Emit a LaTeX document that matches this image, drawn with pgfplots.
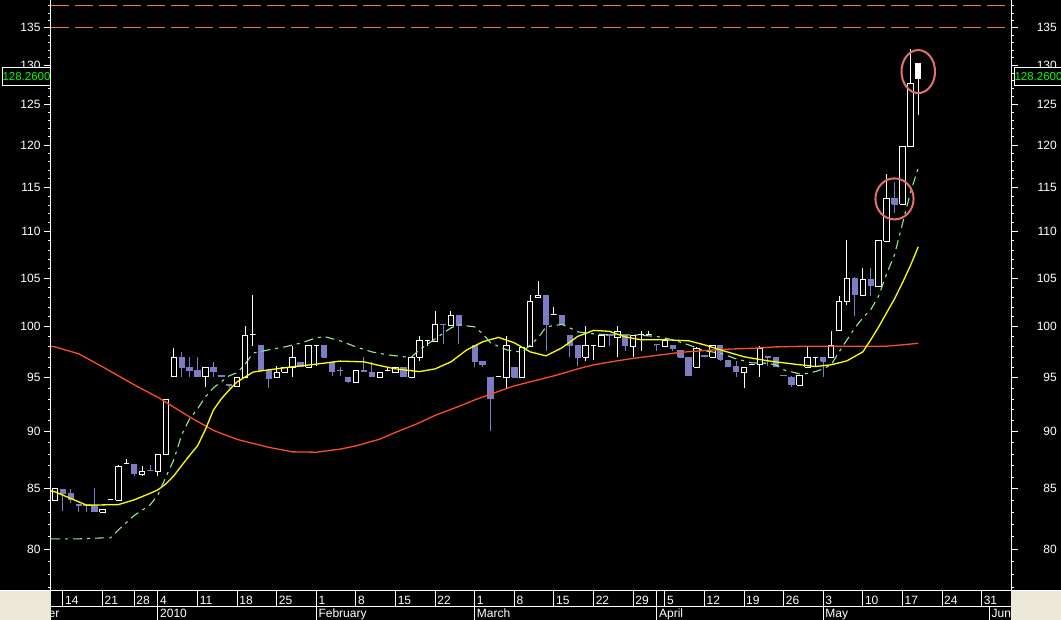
\documentclass[border=0pt]{standalone}
\usepackage{fontspec}
\setmainfont{Liberation Sans}
\usepackage{pgfplots}
\usepackage{pgfplotstable}
\pgfplotsset{compat=1.18}

\definecolor{dnc}{RGB}{124,124,196}
\definecolor{maY}{RGB}{255,255,0}
\definecolor{maG}{RGB}{148,236,148}
\definecolor{maR}{RGB}{250,80,30}
\definecolor{dashO}{RGB}{235,120,60}
\definecolor{ring}{RGB}{228,112,112}
\definecolor{xpgray}{RGB}{236,233,216}
\definecolor{lbl}{RGB}{0,255,0}

\pgfplotstableread{
i o h l c f
0 84.00 85.05 84.00 85.05 0
1 84.90 84.90 83.10 84.55 0
2 84.55 85.00 83.80 84.10 0
3 83.63 83.63 83.05 83.60 0
4 83.63 83.63 83.05 83.60 0
5 83.60 85.05 83.07 83.07 0
6 83.00 83.20 83.00 83.20 0
7 84.10 84.10 84.10 84.10 0
8 84.00 87.00 84.00 86.90 0
9 87.15 87.60 87.15 87.15 0
10 87.05 87.05 86.05 86.30 0
11 86.25 86.95 86.05 86.45 0
12 86.58 87.05 86.55 86.55 0
13 86.45 88.00 86.05 88.00 0
14 88.00 93.05 88.00 93.00 0
15 95.10 97.90 95.10 97.00 0
16 97.00 97.50 95.10 96.00 0
17 95.95 97.00 95.10 95.70 0
18 95.70 97.00 95.10 95.10 0
19 95.10 96.00 94.10 96.00 0
20 96.00 96.50 95.10 95.60 0
21 95.20 95.20 95.10 95.10 0
22 94.35 94.35 94.05 94.30 0
23 94.15 95.05 94.15 95.05 0
24 95.07 100.10 95.07 99.10 0
25 99.20 103.20 98.10 99.20 0
26 98.10 98.10 95.70 95.70 0
27 95.70 95.70 94.00 94.90 0
28 95.07 96.15 95.07 95.55 0
29 95.55 96.00 95.55 96.00 0
30 96.00 98.10 95.10 97.00 0
31 96.50 96.50 96.10 96.10 0
32 96.00 98.10 96.00 98.10 0
33 98.15 98.15 96.15 98.15 0
34 98.10 98.10 97.00 97.00 0
35 96.50 96.50 95.20 95.60 0
36 95.73 96.00 95.20 95.70 0
37 95.07 95.07 94.55 94.65 0
38 94.60 95.75 94.60 95.75 0
39 95.75 97.00 95.60 95.60 0
40 95.55 96.55 95.10 95.10 0
41 95.07 95.55 95.07 95.55 0
42 95.68 96.00 95.68 95.68 0
43 95.50 96.00 95.50 96.00 0
44 96.00 96.00 95.10 95.10 0
45 95.07 97.00 95.07 97.00 0
46 97.00 99.10 96.60 98.60 0
47 98.60 98.60 98.10 98.60 0
48 98.50 101.60 98.50 100.20 0
49 100.23 100.23 98.30 100.20 0
50 100.10 101.60 100.10 101.10 0
51 101.10 101.10 98.25 100.10 0
53 98.10 98.10 96.00 96.60 0
54 96.55 96.55 96.00 96.25 0
55 95.07 95.07 90.07 93.05 0
56 95.15 95.15 95.15 95.15 0
57 95.03 99.10 94.05 98.10 0
58 96.00 96.00 95.07 95.07 0
59 95.03 97.97 95.03 97.97 0
60 98.00 103.20 98.00 102.60 0
61 103.00 104.70 103.00 103.20 0
62 103.20 103.20 97.60 100.20 0
63 101.20 102.00 101.20 101.20 0
64 101.10 101.10 100.20 100.20 0
65 99.10 99.10 97.00 98.10 0
66 98.10 98.10 96.15 97.00 0
67 97.00 100.10 96.60 98.10 0
68 98.15 98.15 96.70 98.15 0
69 98.00 99.10 98.00 99.10 0
70 99.18 99.18 98.10 99.15 0
71 98.90 100.10 97.00 99.50 0
72 99.10 99.10 97.60 98.10 0
73 98.00 99.10 97.00 99.10 0
74 99.20 99.60 97.60 99.20 0
75 99.20 99.60 99.20 99.20 0
76 98.23 98.23 97.60 98.20 0
77 98.00 98.60 98.00 98.60 0
78 98.10 98.10 97.60 97.80 0
79 97.60 97.60 97.00 97.00 0
80 97.00 97.00 95.20 95.20 0
81 96.00 98.00 96.00 97.80 0
82 97.13 97.13 97.10 97.10 0
83 97.00 98.10 97.00 98.10 0
84 98.10 98.10 96.60 96.80 0
85 96.70 96.70 96.10 96.10 0
86 96.10 96.60 95.10 95.60 0
87 95.55 96.00 94.05 96.00 0
88 96.30 96.30 96.30 96.30 0
89 96.25 98.10 95.10 97.80 0
90 97.03 97.03 96.10 97.00 0
91 97.00 97.00 96.10 96.10 0
92 95.23 95.23 95.20 95.20 0
93 95.07 95.20 94.10 94.35 0
94 94.30 95.20 94.30 95.20 0
95 96.00 98.10 96.00 97.00 0
96 97.00 97.00 96.10 97.00 0
97 97.00 97.00 95.10 96.60 0
98 97.00 99.60 97.00 98.15 0
99 99.60 103.10 99.60 102.60 0
100 102.60 109.10 102.20 105.00 0
101 105.00 105.10 101.10 103.30 0
102 103.15 106.05 103.15 104.90 0
103 104.90 106.05 103.10 104.20 0
104 104.10 109.10 104.10 109.00 0
105 108.95 116.60 108.95 113.80 0
106 113.80 115.70 112.10 113.10 0
107 113.10 119.90 113.10 119.90 0
108 119.80 132.10 119.80 127.70 0
109 130.20 130.20 123.70 128.26 1
}\ohlc

\pgfplotstableread{
i v
-0.5 84.80
0 84.73
4 83.60
8 83.65
10 84.05
12 84.60
13 84.90
14 85.41
15 86.10
16 87.00
17 87.89
18 88.73
19 90.21
20 91.98
21 93.02
22 93.86
23 94.62
25 95.55
27 95.77
30 96.06
33 96.32
36 96.61
39 96.54
41 96.18
43 95.86
46 95.60
48 95.86
50 96.54
52 97.71
54 98.50
56 98.94
58 98.40
60 97.51
62 97.12
64 97.91
66 99.04
68 99.64
70 99.54
72 98.99
74 98.70
77 98.70
80 98.60
82 98.20
84 97.71
87 97.03
90 96.64
93 96.35
96 96.09
98 96.25
100 96.64
102 97.51
103 98.70
104 99.99
105 101.41
106 102.84
107 104.51
108 106.31
109 108.36
}\maYel

\pgfplotstableread{
i v
-0.5 80.82
0 80.82
3 80.82
6 80.90
7 80.90
8 81.55
10 82.75
12 83.62
13 84.47
14 86.00
15 87.50
16 89.72
17 91.17
18 92.09
19 93.21
20 94.05
22 95.20
23 95.50
24 96.30
25 97.40
27 97.71
29 98.00
31 98.37
33 98.89
34 99.02
36 98.60
38 98.00
40 97.51
42 97.22
44 97.03
45 97.00
46 97.71
48 98.79
50 99.89
51 100.19
53 99.99
54 99.29
55 98.40
57 97.71
59 97.47
61 98.89
62 99.99
64 100.24
65 99.89
66 99.49
68 99.29
70 99.19
73 99.19
76 99.04
78 98.70
80 98.20
82 97.61
84 97.39
86 96.83
88 96.44
90 96.40
91 96.25
92 95.77
94 95.38
95 95.43
96 95.60
97 95.86
98 96.25
99 97.51
100 98.70
101 99.89
102 100.90
103 101.72
104 103.15
105 105.46
106 107.49
107 110.88
108 114.39
109 117.30
}\maGrn

\pgfplotstableread{
i v
-0.5 98.05
0 98.00
3 97.32
6 96.06
10 94.34
13 93.16
17 91.35
20 90.12
23 89.31
27 88.60
30 88.20
33 88.17
36 88.44
38 88.73
41 89.33
43 89.94
46 90.81
48 91.49
51 92.32
53 92.92
56 93.72
58 94.24
61 94.81
63 95.19
66 95.86
68 96.25
71 96.64
73 96.88
76 97.17
79 97.47
82 97.64
85 97.78
88 97.86
91 98.00
95 98.07
105 98.07
107 98.20
109 98.36
}\maRed

\pgfplotsset{
  candup/.style={draw=white, fill=black, line width=1pt, solid, mark=none},
  candupwick/.style={draw=white, line width=1pt, solid, mark=none},
  canddn/.style={draw=dnc, fill=dnc, line width=1pt, solid, mark=none},
  canddnwick/.style={draw=dnc, line width=1pt, solid, mark=none},
  candwf/.style={draw=white, fill=white, line width=1pt, solid, mark=none},
  candwfwick/.style={draw=white, line width=1pt, solid, mark=none},
  stripax/.style={
    scale only axis, width=960pt, xmin=-0.505, xmax=120.71, ymin=0, ymax=1,
    axis line style={draw=none}, ytick=\empty, major tick length=0pt,
    xmajorgrids, major grid style={white, line width=1pt},
    xticklabel style={font=\fontsize{12}{12}\selectfont, text=white, anchor=base west, inner sep=0pt, xshift=2pt},
  },
}

\begin{document}
\begin{tikzpicture}
\useasboundingbox (0pt,0pt) rectangle (1061pt,620pt);
\begin{scope}
\clip (0pt,0pt) rectangle (1061pt,620pt);
\fill[black] (0pt,0pt) rectangle (1061pt,620pt);

\begin{axis}[
    ymode=log, ymin=76.79, ymax=138.84,
    scale only axis, width=960pt, height=590pt, at={(51pt,30pt)}, anchor=south west,
    xmin=-0.505, xmax=120.71, clip=false,
    separate axis lines,
    x axis line style={draw=none}, y axis line style={draw=white, line width=1pt},
    xtick=\empty, ytick pos=both,
    ytick={80,85,90,95,100,105,110,115,120,125,130,135},
    yticklabels={80,85,90,95,100,105,110,115,120,125,130,135},
    minor ytick={77,78,79,81,82,83,84,86,87,88,89,91,92,93,94,96,97,98,99,101,102,103,104,106,107,108,109,111,112,113,114,116,117,118,119,121,122,123,124,126,127,128,129,131,132,133,134,136,137,138},
    tick align=outside, major tick length=7pt, minor tick length=3pt,
    tick style={white, line width=1pt},
    yticklabel style={font=\fontsize{12}{12}\selectfont, text=white},
  ]
\addplot[dashO, line width=1pt, dash pattern=on 18pt off 6pt] coordinates {(-0.505,138) (120.71,138)};
\addplot[dashO, line width=1pt, dash pattern=on 18pt off 6pt] coordinates {(-0.505,135) (120.71,135)};

\pgfplotstablegetrowsof{\ohlc}
\pgfmathtruncatemacro\nlast{\pgfplotsretval-1}
\pgfplotsforeachungrouped \r in {0,...,\nlast}{%
  \pgfplotstablegetelem{\r}{i}\of\ohlc \let\candX\pgfplotsretval
  \pgfplotstablegetelem{\r}{o}\of\ohlc \let\candO\pgfplotsretval
  \pgfplotstablegetelem{\r}{h}\of\ohlc \let\candH\pgfplotsretval
  \pgfplotstablegetelem{\r}{l}\of\ohlc \let\candL\pgfplotsretval
  \pgfplotstablegetelem{\r}{c}\of\ohlc \let\candC\pgfplotsretval
  \pgfplotstablegetelem{\r}{f}\of\ohlc \let\candF\pgfplotsretval
  \pgfmathsetmacro\candXa{\candX-0.34}%
  \pgfmathsetmacro\candXb{\candX+0.34}%
  \ifdim\candC pt<\candO pt
    \def\candS{canddn}\let\candLo\candC\let\candHi\candO
  \else
    \def\candS{candup}\let\candLo\candO\let\candHi\candC
  \fi
  \ifnum\candF=1 \def\candS{candwf}\fi
  \edef\candcmd{%
    \noexpand\addplot[\candS wick] coordinates {(\candX,\candL) (\candX,\candH)};
    \noexpand\addplot[\candS] coordinates {(\candXa,\candLo) (\candXb,\candLo) (\candXb,\candHi) (\candXa,\candHi) (\candXa,\candLo)};}%
  \candcmd
}

\addplot[maR, line width=1.3pt, mark=none] table[x=i, y=v] {\maRed};
\addplot[maY, line width=1.3pt, mark=none] table[x=i, y=v] {\maYel};
\addplot[maG, line width=1.1pt, mark=none, dash pattern=on 9pt off 5pt on 3pt off 5pt] table[x=i, y=v] {\maGrn};

\addplot[only marks, mark=o, mark size=21.5pt, mark options={draw=ring, line width=2pt, xscale=0.78}] coordinates {(109,129.2)};
\addplot[only marks, mark=o, mark size=20.5pt, mark options={draw=ring, line width=2pt, xscale=0.93}] coordinates {(106,113.7)};

\pgfplotsinvokeforeach{80,85,90,95,100,105,110,115,120,125,130,135}{%
  \node[anchor=east, inner sep=0pt, text=white, font=\fontsize{12}{12}\selectfont, xshift=46pt] at (axis cs:120.71,#1) {#1};}
\end{axis}

% date strip: days
\begin{axis}[stripax, at={(51pt,13.3pt)}, anchor=south west, height=16.7pt,
  xtick={1,6,10,13,18,23,28,33,38,43,48,53,58,63,68,73,76,77,82,87,92,97,102,107,112,117},
  xticklabels={14,21,28,4,11,18,25,1,8,15,22,1,8,15,22,29,{},5,12,19,26,3,10,17,24,31},
  xticklabel style={yshift=2pt}]
\addplot[draw=none] coordinates {(0,0.5)};
\end{axis}
% date strip: months
\begin{axis}[stripax, at={(51pt,0pt)}, anchor=south west, height=13.3pt,
  xtick={13,33,53,76,97,118},
  xticklabels={2010,February,March,April,May,June},
  xticklabel style={yshift=2.5pt}]
\addplot[draw=none] coordinates {(0,0.5)};
\end{axis}
\node[anchor=base east, inner sep=0pt, text=white, font=\fontsize{12}{12}\selectfont] at (59.5pt,2.5pt) {December};

\fill[xpgray] (0pt,0pt) rectangle (51pt,29pt);
\fill[xpgray] (1011pt,0pt) rectangle (1061pt,29pt);
\draw[white, line width=1.5pt] (0pt,29.3pt) -- (1061pt,29.3pt);
\draw[white, line width=1pt] (51pt,13.3pt) -- (1011pt,13.3pt);

\node[draw=white, fill=black, line width=1pt, text=lbl, font=\fontsize{11.5}{12}\selectfont, minimum width=48pt, minimum height=18pt, inner sep=0pt, anchor=east] at (51pt,543pt) {128.2600};
\node[draw=white, fill=black, line width=1pt, text=lbl, font=\fontsize{11.5}{12}\selectfont, minimum width=48pt, minimum height=18pt, inner sep=0pt, anchor=west] at (1014pt,543pt) {128.2600};
\end{scope}
\end{tikzpicture}
\end{document}
